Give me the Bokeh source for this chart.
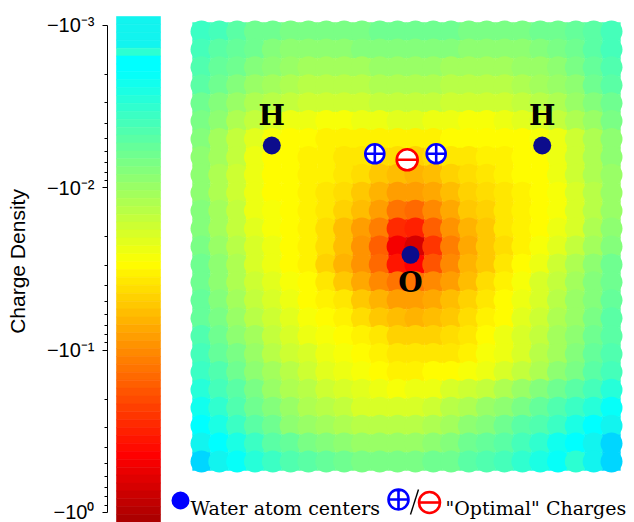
import numpy as np
from bokeh.plotting import figure
from bokeh.models import Range1d, FixedTicker, ColumnDataSource, LinearColorMapper
from bokeh.transform import transform
from bokeh.core.properties import value
from bokeh.embed import file_html
from bokeh.resources import INLINE

# ---------------- data ----------------
# grid of the density map (Angstrom), rows listed from top to bottom
grid_x = [round(-1.15 + 0.1 * i, 2) for i in range(24)]
grid_y = [round(1.2 - 0.1 * j, 2) for j in range(25)]

# log10(|charge density|) (density is negative)
log_density = [
    [-2.45,-2.38,-2.3,-2.22,-2.18,-2.15,-2.15,-2.15,-2.15,-2.17,-2.18,-2.2,-2.2,-2.2,-2.18,-2.16,-2.15,-2.15,-2.15,-2.18,-2.2,-2.25,-2.32,-2.42],
    [-2.4,-2.32,-2.25,-2.18,-2.12,-2.08,-2.08,-2.08,-2.08,-2.1,-2.1,-2.1,-2.12,-2.12,-2.12,-2.07,-2.07,-2.07,-2.07,-2.1,-2.15,-2.2,-2.28,-2.38],
    [-2.33,-2.25,-2.18,-2.1,-2.05,-2.0,-1.98,-1.97,-1.97,-1.98,-2.0,-2.02,-2.02,-2.0,-1.98,-1.96,-1.96,-1.97,-2.0,-2.03,-2.08,-2.15,-2.25,-2.35],
    [-2.28,-2.2,-2.1,-2.0,-1.94,-1.9,-1.87,-1.86,-1.87,-1.88,-1.9,-1.92,-1.92,-1.9,-1.88,-1.86,-1.86,-1.88,-1.9,-1.94,-2.0,-2.08,-2.18,-2.3],
    [-2.22,-2.12,-2.02,-1.92,-1.84,-1.79,-1.76,-1.75,-1.76,-1.78,-1.8,-1.82,-1.82,-1.8,-1.77,-1.75,-1.75,-1.77,-1.8,-1.84,-1.92,-2.0,-2.1,-2.22],
    [-2.17,-2.05,-1.93,-1.8,-1.7,-1.63,-1.6,-1.58,-1.58,-1.6,-1.62,-1.65,-1.65,-1.63,-1.6,-1.58,-1.57,-1.6,-1.65,-1.7,-1.8,-1.9,-2.02,-2.15],
    [-2.12,-1.98,-1.83,-1.65,-1.55,-1.52,-1.5,-1.49,-1.48,-1.48,-1.48,-1.49,-1.49,-1.49,-1.5,-1.5,-1.5,-1.5,-1.52,-1.55,-1.64,-1.78,-1.93,-2.08],
    [-2.08,-1.95,-1.8,-1.62,-1.53,-1.5,-1.47,-1.45,-1.43,-1.41,-1.38,-1.36,-1.35,-1.37,-1.41,-1.44,-1.47,-1.49,-1.5,-1.53,-1.62,-1.75,-1.9,-2.05],
    [-2.06,-1.92,-1.76,-1.6,-1.53,-1.5,-1.48,-1.45,-1.41,-1.36,-1.3,-1.23,-1.2,-1.25,-1.32,-1.38,-1.43,-1.46,-1.5,-1.53,-1.62,-1.75,-1.9,-2.03],
    [-2.07,-1.93,-1.77,-1.6,-1.53,-1.5,-1.47,-1.43,-1.38,-1.3,-1.2,-1.1,-1.07,-1.13,-1.24,-1.32,-1.38,-1.43,-1.48,-1.52,-1.58,-1.72,-1.88,-2.03],
    [-2.1,-1.95,-1.8,-1.63,-1.55,-1.5,-1.46,-1.41,-1.33,-1.23,-1.08,-0.9,-0.86,-0.98,-1.14,-1.26,-1.35,-1.42,-1.47,-1.51,-1.57,-1.7,-1.87,-2.02],
    [-2.13,-1.98,-1.83,-1.66,-1.57,-1.51,-1.45,-1.37,-1.25,-1.1,-0.92,-0.55,-0.5,-0.8,-1.05,-1.2,-1.3,-1.4,-1.47,-1.53,-1.6,-1.74,-1.9,-2.05],
    [-2.15,-2.02,-1.87,-1.7,-1.6,-1.52,-1.45,-1.36,-1.23,-1.05,-0.8,-0.3,-0.15,-0.6,-0.95,-1.15,-1.28,-1.38,-1.48,-1.57,-1.68,-1.82,-1.98,-2.12],
    [-2.18,-2.05,-1.9,-1.74,-1.62,-1.53,-1.45,-1.35,-1.2,-1.04,-0.83,-0.45,-0.35,-0.72,-0.98,-1.16,-1.28,-1.4,-1.5,-1.62,-1.76,-1.9,-2.05,-2.18],
    [-2.2,-2.08,-1.93,-1.78,-1.66,-1.57,-1.5,-1.42,-1.3,-1.15,-1.0,-0.9,-0.88,-0.98,-1.1,-1.23,-1.36,-1.48,-1.58,-1.7,-1.82,-1.96,-2.1,-2.22],
    [-2.23,-2.1,-1.97,-1.82,-1.7,-1.61,-1.54,-1.48,-1.4,-1.3,-1.2,-1.1,-1.07,-1.13,-1.22,-1.32,-1.42,-1.52,-1.62,-1.74,-1.86,-2.0,-2.13,-2.25],
    [-2.27,-2.15,-2.02,-1.88,-1.76,-1.66,-1.58,-1.52,-1.46,-1.38,-1.3,-1.22,-1.2,-1.24,-1.3,-1.38,-1.46,-1.54,-1.66,-1.78,-1.9,-2.03,-2.16,-2.28],
    [-2.33,-2.2,-2.07,-1.94,-1.82,-1.72,-1.64,-1.57,-1.51,-1.46,-1.4,-1.34,-1.32,-1.34,-1.38,-1.44,-1.51,-1.6,-1.7,-1.82,-1.94,-2.07,-2.2,-2.32],
    [-2.4,-2.27,-2.14,-2.0,-1.88,-1.78,-1.7,-1.62,-1.56,-1.51,-1.46,-1.42,-1.4,-1.41,-1.44,-1.49,-1.55,-1.63,-1.74,-1.86,-1.98,-2.1,-2.24,-2.36],
    [-2.46,-2.34,-2.21,-2.07,-1.95,-1.85,-1.76,-1.68,-1.61,-1.56,-1.52,-1.49,-1.48,-1.5,-1.53,-1.58,-1.64,-1.72,-1.82,-1.93,-2.05,-2.17,-2.3,-2.42],
    [-2.55,-2.42,-2.28,-2.14,-2.02,-1.92,-1.84,-1.76,-1.7,-1.65,-1.61,-1.59,-1.6,-1.64,-1.7,-1.76,-1.83,-1.91,-2.0,-2.1,-2.2,-2.3,-2.42,-2.53],
    [-2.65,-2.5,-2.36,-2.22,-2.1,-2.0,-1.92,-1.85,-1.79,-1.74,-1.71,-1.7,-1.72,-1.78,-1.86,-1.93,-2.0,-2.08,-2.16,-2.25,-2.34,-2.44,-2.56,-2.68],
    [-2.8,-2.6,-2.44,-2.3,-2.18,-2.08,-2.0,-1.94,-1.89,-1.86,-1.84,-1.84,-1.86,-1.9,-1.98,-2.05,-2.12,-2.2,-2.28,-2.37,-2.47,-2.6,-2.75,-2.95],
    [-3.05,-2.78,-2.58,-2.44,-2.32,-2.23,-2.16,-2.1,-2.05,-2.02,-2.0,-2.0,-2.02,-2.07,-2.13,-2.19,-2.25,-2.32,-2.4,-2.5,-2.62,-2.77,-2.97,-3.12],
    [-3.2,-2.92,-2.7,-2.55,-2.44,-2.36,-2.3,-2.25,-2.2,-2.17,-2.15,-2.14,-2.15,-2.18,-2.22,-2.28,-2.34,-2.41,-2.48,-2.58,-2.7,-2.86,-3.05,-3.2],
]

atom_names = ["H", "H", "O"]
atom_x = [-0.7556, 0.7613, 0.0224]
atom_y = [0.5637, 0.5637, -0.0463]
atom_label_offset = [-30, -30, 28]

plus_x = [-0.1778, 0.1666]
plus_y = [0.5174, 0.5174]
minus_x = [0.0039]
minus_y = [0.4839]

cbar_ticks = [-3, -2, -1, 0]
cbar_labels = ["\u221210\u207b\u00b3", "\u221210\u207b\u00b2", "\u221210\u207b\u00b9", "\u221210\u2070"]
cbar_low, cbar_high = -3.0554, 0.0616

legend_labels = ["Water atom centers", "\"Optimal\" Charges"]

# ---------------- colour map (64 bands, jet-like) ----------------
def jet(t):
    r = min(max(min(4 * t - 1.5, -4 * t + 4.5), 0), 1)
    g = min(max(min(4 * t - 0.5, -4 * t + 3.5), 0), 1)
    b = min(max(min(4 * t + 0.5, -4 * t + 2.5), 0), 1)
    return "#%02x%02x%02x" % (round(r * 255), round(g * 255), round(b * 255))

palette = []
for k in range(64):
    f = (k + 0.5) / 64
    if k < 4:
        palette.append("#12f4ef")
    elif k == 4:
        palette.append("#2cffd2")
    elif k < 7:
        palette.append("#00ffff")
    else:
        palette.append(jet(0.375 + (f - 0.108) * 0.658))

mapper = LinearColorMapper(palette=palette, low=cbar_low, high=cbar_high,
                           low_color="#00d6ff", high_color="#a00000")

# ---------------- figure ----------------
p = figure(width=634, height=522, output_backend="svg", toolbar_location=None,
           title=None, x_range=Range1d(107, 634), y_range=Range1d(0.0616, -3.154),
           x_axis_location=None, y_axis_location="left",
           min_border_left=107, min_border_right=0, min_border_top=0, min_border_bottom=0)
p.outline_line_color = None
p.grid.visible = False
p.background_fill_color = "white"
p.border_fill_color = "white"

p.extra_x_ranges = {"hx": Range1d(-1.6773, 1.2790)}
p.extra_y_ranges = {"hy": Range1d(-1.5404, 1.3730)}

# colour bar bands
edges = np.linspace(cbar_low, cbar_high, 65)
cb = ColumnDataSource(dict(top=edges[:-1], bottom=edges[1:], c=palette))
p.quad(left=116, right=160, top="top", bottom="bottom", fill_color="c",
       line_color="c", line_width=0.6, source=cb)

minor = []
for d in (-3, -2, -1):
    for m in range(2, 10):
        minor.append(d + np.log10(m))
ax = p.yaxis[0]
ax.ticker = FixedTicker(ticks=cbar_ticks, minor_ticks=minor)
ax.major_label_overrides = dict(zip(cbar_ticks, cbar_labels))
ax.bounds = (-3, 0)
ax.axis_label = "Charge Density"
ax.axis_label_text_font = "Liberation Sans"
ax.axis_label_text_font_style = "normal"
ax.axis_label_text_font_size = "21px"
ax.axis_label_text_color = "black"
ax.axis_label_standoff = 15
ax.major_label_text_font = "Liberation Sans"
ax.major_label_text_font_size = "20px"
ax.major_label_text_color = "black"
ax.major_label_standoff = 8
ax.major_tick_out = 5
ax.major_tick_in = 0
ax.minor_tick_out = 3
ax.minor_tick_in = 0
ax.axis_line_color = "black"
ax.major_tick_line_color = "black"
ax.minor_tick_line_color = "black"

# density map: cell tiles underneath, overlapping round markers on top
xs, ys, vs = [], [], []
for j, yy in enumerate(grid_y):
    for i, xx in enumerate(grid_x):
        xs.append(xx); ys.append(yy); vs.append(log_density[j][i])
hm = ColumnDataSource(dict(x=xs, y=ys, v=vs))
p.rect("x", "y", width=0.1, height=0.1, source=hm,
       fill_color=transform("v", mapper), line_color=transform("v", mapper), line_width=0.5,
       x_range_name="hx", y_range_name="hy")
p.scatter("x", "y", source=hm, marker="circle", size=22,
          fill_color=transform("v", mapper), line_color=None,
          x_range_name="hx", y_range_name="hy")

# atoms
atoms = ColumnDataSource(dict(x=atom_x, y=atom_y, t=atom_names, off=atom_label_offset))
p.scatter("x", "y", source=atoms, marker="circle", size=18, fill_color="#0c0c8c",
          line_color=None, x_range_name="hx", y_range_name="hy")
p.text("x", "y", text="t", y_offset="off", source=atoms, text_align="center",
       text_baseline="middle", text_font=value("DejaVu Serif"), text_font_style="bold",
       text_font_size="28px", text_color="black", x_range_name="hx", y_range_name="hy")

# optimal charges
p.scatter(plus_x, plus_y, marker="circle_cross", size=19, fill_color="white",
          line_color="#0000ff", line_width=2.6, x_range_name="hx", y_range_name="hy")
p.scatter(minus_x, minus_y, marker="circle", size=21, fill_color="white",
          line_color="#ff0000", line_width=2.6, x_range_name="hx", y_range_name="hy")
p.scatter(minus_x, minus_y, marker="dash", size=21, line_color="#ff0000",
          line_width=2.6, x_range_name="hx", y_range_name="hy")

# legend row
p.scatter([-1.2678], [-1.4176], marker="circle", size=18, fill_color="#0000ff",
          line_color=None, x_range_name="hx", y_range_name="hy")
p.scatter([-0.0449], [-1.4121], marker="circle_cross", size=20, fill_color="white",
          line_color="#0000ff", line_width=2.6, x_range_name="hx", y_range_name="hy")
p.segment(x0=[0.0224], y0=[-1.4958], x1=[0.0673], y1=[-1.3563], line_color="black",
          line_width=1.4, x_range_name="hx", y_range_name="hy")
p.scatter([0.1290], [-1.4288], marker="circle", size=21, fill_color="white",
          line_color="#ff0000", line_width=2.6, x_range_name="hx", y_range_name="hy")
p.scatter([0.1290], [-1.4288], marker="dash", size=21, line_color="#ff0000",
          line_width=2.6, x_range_name="hx", y_range_name="hy")
p.text(x=[-1.2117, 0.2188], y=[-1.4567, -1.4567], text=legend_labels,
       text_align="left", text_baseline="alphabetic", text_font=value("DejaVu Serif"),
       text_font_size="19px", text_color="black", x_range_name="hx", y_range_name="hy")

open("out.html", "w").write(file_html(p, INLINE))
